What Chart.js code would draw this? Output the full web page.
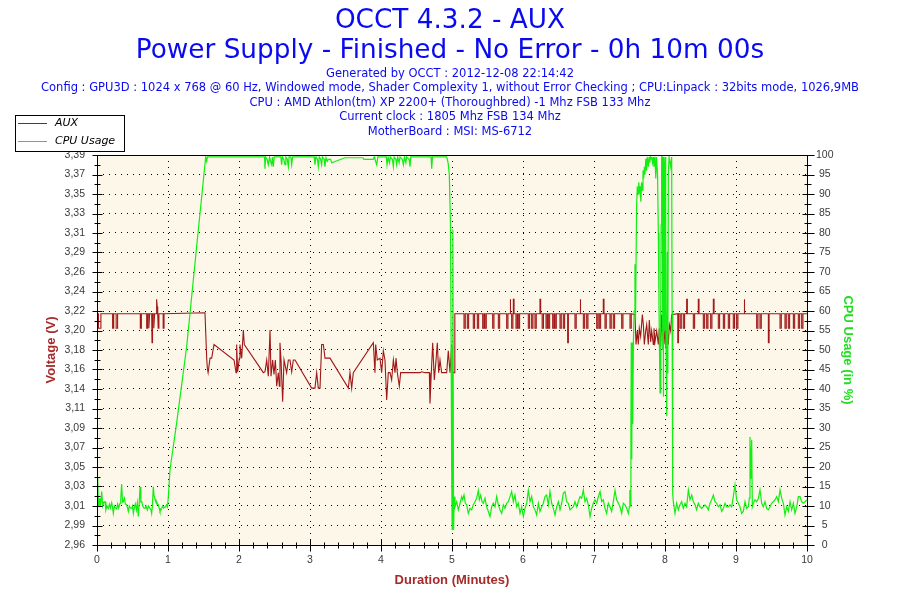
<!DOCTYPE html>
<html><head><meta charset="utf-8">
<script src="https://cdn.jsdelivr.net/npm/chart.js@4.4.1/dist/chart.umd.min.js"></script>
<style>html,body{margin:0;padding:0;background:#fff;overflow:hidden}#wrap{width:900px;height:600px}</style>
</head><body><div id="wrap"><canvas id="c" width="900" height="600"></canvas></div>
<script>
const titleLines = ['OCCT 4.3.2 - AUX', 'Power Supply - Finished - No Error - 0h 10m 00s'];
const infoLines = [
  'Generated by OCCT : 2012-12-08 22:14:42',
  'Config : GPU3D : 1024 x 768 @ 60 Hz, Windowed mode, Shader Complexity 1, without Error Checking ; CPU:Linpack : 32bits mode, 1026,9MB',
  'CPU : AMD Athlon(tm) XP 2200+ (Thoroughbred) -1 Mhz FSB 133 Mhz',
  'Current clock : 1805 Mhz FSB 134 Mhz',
  'MotherBoard : MSI: MS-6712'
];
const xAxisTitle = 'Duration (Minutes)';
const yAxisTitle = 'Voltage (V)';
const y1AxisTitle = 'CPU Usage (in %)';
const seriesNames = ['AUX', 'CPU Usage'];
const voltMin = 2.964, voltMax = 3.394;
const voltTickLabels = ['2,96','2,99','3,01','3,03','3,05','3,07','3,09','3,11','3,14','3,16','3,18','3,20','3,22','3,24','3,26','3,29','3,31','3,33','3,35','3,37','3,39'];

const auxTime = [
  0.000,0.010,0.010,0.020,0.020,0.055,0.055,0.220,0.220,0.235,0.235,0.270,0.270,0.290,0.290,
  0.610,0.610,0.625,0.625,0.700,0.700,0.712,0.712,0.730,0.730,0.742,0.770,0.775,0.782,0.800,
  0.800,0.812,0.835,0.840,0.848,0.855,0.862,0.872,0.932,0.932,0.944,0.944,1.521,
  1.545,1.554,1.565,1.577,1.592,1.615,1.648,1.930,1.958,1.967,1.981,2.005,2.014,2.038,2.061,2.075,
  2.343,2.366,2.390,2.413,2.437,2.451,2.474,2.493,2.512,2.531,2.554,2.568,2.577,2.592,2.615,2.634,
  2.671,2.695,2.718,2.742,2.765,2.789,3.023,3.070,3.094,3.117,3.141,3.164,3.188,3.211,3.282,
  3.540,3.563,3.587,3.610,3.892,3.915,3.925,3.948,3.986,4.009,4.033,4.056,4.080,4.103,4.127,
  4.150,4.174,4.197,4.211,4.230,4.258,4.277,4.549,4.573,4.620,4.681,4.690,4.704,4.728,4.751,
  4.775,4.793,4.812,4.831,4.854,4.925,4.948,4.972,4.995,5.010,5.035,5.040,
  5.169,5.169,5.187,5.187, 5.216,5.216,5.234,5.234, 5.300,5.300,5.318,5.318, 5.357,5.357,5.375,5.375,
  5.432,5.432,5.450,5.450, 5.465,5.465,5.483,5.483, 5.573,5.573,5.591,5.591, 5.653,5.653,5.671,5.671,
  5.770,5.770,5.788,5.788, 5.817,5.817,5.827,5.827, 5.840,5.840,5.858,5.858, 5.864,5.864,5.874,5.874,
  5.901,5.901,5.919,5.919, 5.934,5.934,5.952,5.952, 6.075,6.075,6.093,6.093, 6.122,6.122,6.140,6.140,
  6.169,6.169,6.187,6.187, 6.239,6.239,6.249,6.249, 6.270,6.270,6.288,6.288, 6.324,6.324,6.342,6.342,
  6.357,6.357,6.375,6.375, 6.418,6.418,6.436,6.436, 6.451,6.451,6.469,6.469, 6.521,6.521,6.539,6.539,
  6.568,6.568,6.586,6.586, 6.629,6.629,6.639,6.639, 6.732,6.732,6.750,6.750, 6.803,6.803,6.813,6.813,
  6.850,6.850,6.868,6.868, 6.897,6.897,6.915,6.915, 7.038,7.038,7.056,7.056, 7.075,7.075,7.093,7.093,
  7.131,7.131,7.141,7.141, 7.155,7.155,7.173,7.173, 7.225,7.225,7.243,7.243, 7.272,7.272,7.290,7.290,
  7.390,7.390,7.408,7.408, 7.507,7.507,7.525,7.525,
  7.577,7.592,7.610,7.624,7.638,7.657,7.681,7.695,7.709,7.728,7.742,7.765,7.779,7.798,7.812,7.836,
  7.845,7.859,7.883,7.906,7.920,7.939,7.953,7.967,7.986,8.000,8.014,8.033,8.047,8.061,8.080,8.094,
  8.180,8.180,8.190,8.190, 8.211,8.211,8.229,8.229, 8.258,8.258,8.276,8.276, 8.305,8.305,8.315,8.315,
  8.399,8.399,8.417,8.417, 8.469,8.469,8.479,8.479, 8.540,8.540,8.558,8.558, 8.587,8.587,8.605,8.605,
  8.643,8.643,8.661,8.661, 8.681,8.681,8.691,8.691, 8.751,8.751,8.769,8.769, 8.822,8.822,8.840,8.840,
  8.892,8.892,8.910,8.910, 8.962,8.962,8.980,8.980, 9.009,9.009,9.027,9.027, 9.113,9.113,9.123,9.123,
  9.291,9.291,9.309,9.309, 9.338,9.338,9.356,9.356, 9.456,9.456,9.466,9.466, 9.620,9.620,9.638,9.638,
  9.690,9.690,9.708,9.708, 9.737,9.737,9.755,9.755, 9.808,9.808,9.826,9.826, 9.878,9.878,9.896,9.896,
  9.925,9.925,9.943,9.943, 10.000
];
const auxVolt = [
  3.203,3.203,3.219,3.219,3.203,3.203,3.219,3.219,3.203,3.203,3.219,3.219,3.203,3.203,3.219,
  3.219,3.203,3.203,3.219,3.219,3.203,3.203,3.219,3.219,3.203,3.219,3.219,3.187,3.219,3.219,
  3.203,3.219,3.219,3.235,3.227,3.219,3.203,3.219,3.219,3.203,3.203,3.219,3.220,
  3.170,3.159,3.154,3.154,3.170,3.170,3.185,3.168,3.154,3.185,3.155,3.170,3.185,3.170,3.201,3.185,
  3.154,3.155,3.168,3.150,3.201,3.150,3.168,3.152,3.168,3.139,3.154,3.139,3.187,3.168,3.122,3.168,
  3.154,3.168,3.168,3.155,3.168,3.168,3.137,3.137,3.154,3.137,3.137,3.185,3.185,3.170,3.170,
  3.137,3.154,3.137,3.154,3.187,3.154,3.185,3.168,3.170,3.154,3.178,3.168,3.124,3.154,3.154,
  3.146,3.168,3.154,3.170,3.154,3.139,3.154,3.154,3.155,3.154,3.154,3.120,3.146,3.187,3.146,
  3.168,3.187,3.154,3.168,3.154,3.154,3.178,3.154,3.185,3.154,3.154,3.219,
  3.219,3.203,3.203,3.219, 3.219,3.203,3.203,3.219, 3.219,3.203,3.203,3.219, 3.219,3.203,3.203,3.219,
  3.219,3.203,3.203,3.219, 3.219,3.203,3.203,3.219, 3.219,3.203,3.203,3.219, 3.219,3.203,3.203,3.219,
  3.219,3.203,3.203,3.219, 3.219,3.235,3.235,3.219, 3.219,3.203,3.203,3.219, 3.219,3.235,3.235,3.219,
  3.219,3.203,3.203,3.219, 3.219,3.203,3.203,3.219, 3.219,3.203,3.203,3.219, 3.219,3.203,3.203,3.219,
  3.219,3.203,3.203,3.219, 3.219,3.235,3.235,3.219, 3.219,3.203,3.203,3.219, 3.219,3.203,3.203,3.219,
  3.219,3.203,3.203,3.219, 3.219,3.203,3.203,3.219, 3.219,3.203,3.203,3.219, 3.219,3.203,3.203,3.219,
  3.219,3.203,3.203,3.219, 3.219,3.187,3.187,3.219, 3.219,3.203,3.203,3.219, 3.219,3.235,3.235,3.219,
  3.219,3.203,3.203,3.219, 3.219,3.203,3.203,3.219, 3.219,3.203,3.203,3.219, 3.219,3.203,3.203,3.219,
  3.219,3.235,3.235,3.219, 3.219,3.203,3.203,3.219, 3.219,3.203,3.203,3.219, 3.219,3.203,3.203,3.219,
  3.219,3.203,3.203,3.219, 3.219,3.203,3.203,3.219,
  3.218,3.185,3.200,3.185,3.203,3.194,3.218,3.207,3.185,3.200,3.207,3.185,3.212,3.188,3.200,3.185,
  3.203,3.188,3.200,3.185,3.203,3.183,3.218,3.200,3.185,3.203,3.181,3.200,3.185,3.207,3.200,3.218,
  3.219,3.187,3.187,3.219, 3.219,3.203,3.203,3.219, 3.219,3.203,3.203,3.219, 3.219,3.235,3.235,3.219,
  3.219,3.203,3.203,3.219, 3.219,3.235,3.235,3.219, 3.219,3.203,3.203,3.219, 3.219,3.203,3.203,3.219,
  3.219,3.203,3.203,3.219, 3.219,3.235,3.235,3.219, 3.219,3.203,3.203,3.219, 3.219,3.203,3.203,3.219,
  3.219,3.203,3.203,3.219, 3.219,3.203,3.203,3.219, 3.219,3.203,3.203,3.219, 3.219,3.235,3.235,3.219,
  3.219,3.203,3.203,3.219, 3.219,3.203,3.203,3.219, 3.219,3.187,3.187,3.219, 3.219,3.203,3.203,3.219,
  3.219,3.203,3.203,3.219, 3.219,3.203,3.203,3.219, 3.219,3.203,3.203,3.219, 3.219,3.203,3.203,3.219,
  3.219,3.203,3.203,3.219, 3.219
];

const cpuTime = [
  0.000,0.009,0.020,0.030,0.042,0.055,0.066,0.080,0.095,0.113,0.125,0.140,0.160,0.175,0.190,0.207,
  0.220,0.230,0.245,0.260,0.277,0.290,0.305,0.324,0.335,0.347,0.360,0.371,0.385,0.400,0.418,0.430,
  0.441,0.455,0.470,0.488,0.500,0.512,0.525,0.540,0.555,0.568,0.582,0.595,0.606,0.618,0.629,0.645,
  0.660,0.676,0.690,0.709,0.725,0.746,0.760,0.770,0.780,0.793,0.805,0.817,0.830,0.840,0.852,0.864,
  0.875,0.887,0.900,0.911,0.925,0.940,0.958,0.970,0.981,0.993,1.005,
  1.028,1.122,1.263,1.404,1.531,
  1.545,1.556,2.360,2.366,2.375,2.395,2.413,2.430,2.450,2.460,2.470,2.484,2.495,2.590,2.600,2.612,
  2.630,2.648,2.660,2.680,2.695,2.705,2.730,2.742,2.755,2.789,3.060,3.070,3.085,3.105,3.117,3.130,
  3.150,3.164,3.175,3.200,3.211,3.225,3.245,3.258,3.290,3.305,3.493,3.745,3.760,3.890,3.905,3.915,
  3.940,3.955,4.075,4.085,4.100,4.120,4.130,4.160,4.174,4.185,4.210,4.221,4.235,4.255,4.268,4.300,
  4.315,4.330,4.350,4.361,4.395,4.408,4.420,4.705,4.714,4.725,4.925,4.945,4.962,
  4.978,4.988,4.995,5.002,5.012,5.022,5.032,
  5.042,5.066,5.089,5.113,5.136,5.150,5.169,5.188,5.207,5.230,5.254,5.277,5.300,5.324,5.347,5.371,
  5.385,5.404,5.423,5.441,5.465,5.488,5.512,5.535,5.559,5.582,5.606,5.629,5.653,5.676,5.700,5.723,
  5.746,5.770,5.793,5.817,5.840,5.864,5.887,5.911,5.934,5.958,5.981,6.005,6.028,6.052,6.075,6.099,
  6.122,6.146,6.169,6.192,6.216,6.239,6.263,6.286,6.310,6.333,6.357,6.380,6.404,6.427,6.451,6.474,
  6.498,6.521,6.545,6.568,6.592,6.615,6.638,6.662,6.685,6.709,6.732,6.756,6.779,6.803,6.826,6.850,
  6.873,6.897,6.920,6.944,6.967,6.991,7.014,7.038,7.061,7.085,7.108,7.131,7.155,7.178,7.202,7.225,
  7.249,7.272,7.296,7.319,7.343,7.366,7.390,7.413,7.437,7.460,7.484,7.498,
  7.505,7.512,7.520,7.525,7.532,7.538,7.545,7.555,7.565,7.577,7.585,7.600,7.610,7.620,7.630,7.640,
  7.648,7.660,7.670,7.680,7.690,7.700,7.710,7.718,7.730,7.740,7.750,7.765,7.775,7.785,7.795,7.805,
  7.812,7.825,7.835,7.845,7.859,7.870,7.880,7.895,7.906,7.915,7.925,7.930,7.940,7.945,7.953,7.962,
  7.968,7.972,7.976,7.982,7.990,7.995,8.000,8.010,8.018,8.024,8.032,8.040,8.047,8.058,8.070,8.080,
  8.094,8.100,8.108,
  8.117,8.141,8.164,8.188,8.211,8.235,8.258,8.282,8.305,8.329,8.352,8.376,8.399,8.423,8.446,8.469,
  8.493,8.516,8.540,8.563,8.587,8.610,8.634,8.657,8.681,8.704,8.728,8.751,8.775,8.798,8.822,8.845,
  8.869,8.892,8.916,8.939,8.962,8.986,9.009,9.033,9.056,9.080,9.103,9.127,9.150,9.174,9.188,9.197,
  9.210,9.221,9.230,9.244,9.268,9.291,9.315,9.338,9.362,9.385,9.408,9.432,9.455,9.479,9.502,9.526,
  9.549,9.573,9.596,9.620,9.643,9.667,9.690,9.714,9.737,9.761,9.784,9.808,9.831,9.855,9.878,9.902,
  9.925,9.948,9.972,10.000
];
const cpuUsage = [
  11,17.5,10,12,9.8,11,13.7,10,11,11.1,9,10,9.4,10.5,9.5,10.8,
  9.5,8.1,10,9.5,9.2,10.5,9.5,10.7,12,15.6,11,11.1,12,10.5,10.3,9.5,
  8.6,10,9.5,9.4,10,8.1,9.5,10.5,9,10.8,7.3,11,14.9,11,11.1,10,
  9.5,9.4,10,9,10,9.4,9,8.1,10,14.9,12.5,11.8,11,11.1,10.5,10.3,
  9.5,8.6,9,9.4,10,9.5,9.8,10,10.3,9.8,12.4,
  19.3,31.3,50.9,76.6,99.5,
  98.4,99.5,99.5,96.5,99.5,98.9,97.5,99.5,98,97.5,99.5,97,99.5,99.5,97.5,99.5,
  98.9,97.5,99.5,98.9,97,99.5,99.5,97.5,99.5,99.5,99.5,97.5,99.5,98.9,97,99.5,
  98.9,97.5,99.5,98.9,97,99.3,98.4,98.9,98.9,98,99.3,99.3,98.9,98.9,99.5,98.9,
  97.5,99.5,99.5,97.5,99.5,98,99.5,98.9,97,99.5,98.9,97.5,99.5,98,99.5,98.9,
  97.5,99.5,98,99.5,98.9,97,99.5,99.5,96.5,99.5,99.5,98,95,
  82.7,50.9,20,4,80.9,3.9,12.4,
  9.8,11.1,9.0,10.7,12.4,11.6,12.8,10.7,10.3,8.1,9.4,9.0,10.3,11.1,12.0,14.0,
  11.6,12.8,11.1,10.7,12.0,9.8,8.6,7.3,9.8,10.7,9.8,12.4,10.3,9.0,8.1,10.3,
  9.4,10.7,11.1,12.4,13.7,11.1,12.8,9.8,10.7,8.1,9.8,7.3,9.4,10.7,14.0,11.1,
  12.4,9.8,9.0,7.7,10.7,8.6,9.8,10.7,12.4,12.8,10.3,13.7,10.7,9.4,7.7,9.8,
  11.1,9.0,10.7,13.3,13.7,11.1,10.7,9.0,9.4,9.8,11.1,9.8,11.1,12.4,12.0,14.1,
  11.1,12.0,10.3,7.3,9.4,10.7,11.6,10.7,12.4,13.7,11.1,11.6,9.4,8.1,10.7,9.8,
  8.6,11.1,14.0,11.6,10.7,9.8,8.1,10.7,10.3,9.4,8.1,9.8,
  14.1,10,30.8,51.9,22,51.9,31,52,60,72,58,87,92,90,93,91,
  92,88,93,91,96,94,97,95,99,96,99.5,97,99.5,98,99.5,99,
  99.5,98,99.5,97,99.5,94,99.5,95,80,62,46,39,60,82,99.5,99.5,
  50,80,38,99.5,95,55,99.5,62,44,33,75,44,95,99.5,99.5,97,
  99.5,60,13.3,
  11.1,8.1,10.7,9.0,10.3,11.1,9.4,10.7,9.8,14.1,11.6,12.8,11.1,10.3,9.0,10.7,
  9.8,9.4,9.8,10.3,9.8,9.0,10.7,11.6,12.8,11.1,10.7,9.8,10.3,8.6,9.4,10.7,
  9.8,9.8,10.3,9.8,12.4,15.4,11.6,10.7,9.8,8.1,8.6,11.1,9.4,9.8,12.0,27.7,
  17,27,9.8,10.7,11.6,11.1,12.0,14.1,10.7,9.8,11.1,9.4,9.0,9.8,10.7,11.1,
  11.6,12.4,11.1,14.1,12.0,10.7,7.7,9.8,8.6,11.1,9.0,10.7,8.1,9.8,12.4,12.4,
  11.1,10.7,11.1,11.6
];

if (auxTime.length !== auxVolt.length) throw new Error('aux length ' + auxTime.length + ' vs ' + auxVolt.length);
if (cpuTime.length !== cpuUsage.length) throw new Error('cpu length ' + cpuTime.length + ' vs ' + cpuUsage.length);

const auxColor = '#A01818';
const cpuColor = '#11EE11';
const plotBg = '#FCF7E9';
const titleBlue = '#0A0AF0';
const tickColor = '#3a3a3a';
const FONT_V = '"DejaVu Sans", Verdana, sans-serif';
const FONT_A = '"Liberation Sans", Arial, sans-serif';

const decor = {
  id: 'decor',
  beforeDraw(chart) {
    const {ctx, chartArea: a} = chart;
    ctx.save();
    ctx.fillStyle = '#fff';
    ctx.fillRect(0, 0, chart.width, chart.height);
    ctx.fillStyle = plotBg;
    ctx.fillRect(a.left, a.top, a.right - a.left, a.bottom - a.top);
    ctx.restore();
  },
  afterDraw(chart) {
    const {ctx, chartArea: a, scales} = chart;
    const xs = scales.x, yl = scales.y, yr = scales.y1;
    ctx.save();
    ctx.strokeStyle = '#000';
    ctx.lineWidth = 1;
    const L = Math.round(a.left) + 0.5, T = Math.round(a.top) + 0.5;
    const R = Math.round(a.right) + 0.5, B = Math.round(a.bottom) + 0.5;
    ctx.strokeRect(L, T, R - L, B - T);
    ctx.beginPath();
    for (let i = 0; i <= 50; i++) {
      const px = Math.round(xs.getPixelForValue(i / 5)) + 0.5;
      const major = i % 5 === 0;
      ctx.moveTo(px, B - (major ? 6 : 3));
      ctx.lineTo(px, B + (major ? 6 : 3));
    }
    for (let i = 0; i <= 40; i++) {
      const py = Math.round(yl.getPixelForValue(voltMin + i * (voltMax - voltMin) / 40)) + 0.5;
      const major = i % 2 === 0;
      ctx.moveTo(L - (major ? 5 : 3), py);
      ctx.lineTo(L + (major ? 5 : 3), py);
    }
    for (let i = 0; i <= 40; i++) {
      const py = Math.round(yr.getPixelForValue(i * 2.5)) + 0.5;
      const major = i % 2 === 0;
      ctx.moveTo(R - (major ? 5 : 3), py);
      ctx.lineTo(R + (major ? 7 : 4), py);
    }
    ctx.stroke();

    ctx.fillStyle = titleBlue;
    ctx.textAlign = 'center';
    ctx.textBaseline = 'middle';
    ctx.font = '26.3px ' + FONT_V;
    ctx.fillText(titleLines[0], 450, 21);
    ctx.fillText(titleLines[1], 450, 51);
    ctx.font = '11.5px ' + FONT_V;
    infoLines.forEach((t, i) => ctx.fillText(t, 450, 74 + i * 14.4));

    ctx.font = 'bold 13px ' + FONT_A;
    ctx.fillStyle = '#A52A2A';
    ctx.fillText(xAxisTitle, (a.left + a.right) / 2, 580);
    ctx.save();
    ctx.translate(51, (a.top + a.bottom) / 2);
    ctx.rotate(-Math.PI / 2);
    ctx.fillText(yAxisTitle, 0, 0);
    ctx.restore();
    ctx.save();
    ctx.fillStyle = '#22DD22';
    ctx.translate(848, (a.top + a.bottom) / 2);
    ctx.rotate(Math.PI / 2);
    ctx.fillText(y1AxisTitle, 0, 0);
    ctx.restore();

    ctx.fillStyle = '#fff';
    ctx.fillRect(15, 115, 109, 36);
    ctx.strokeStyle = '#000';
    ctx.strokeRect(15.5, 115.5, 109, 36);
    const legendColors = [auxColor, cpuColor];
    ctx.textAlign = 'left';
    ctx.font = 'italic 11px ' + FONT_V;
    seriesNames.forEach((n, i) => {
      const y = 123.5 + i * 18;
      ctx.strokeStyle = legendColors[i];
      ctx.beginPath();
      ctx.moveTo(18, y); ctx.lineTo(47, y);
      ctx.stroke();
      ctx.fillStyle = '#000';
      ctx.fillText(n, 55, y);
    });
    ctx.restore();
  }
};

new Chart(document.getElementById('c'), {
  type: 'line',
  data: {
    datasets: [
      {
        label: seriesNames[1],
        data: cpuTime.map((t, i) => ({x: t, y: cpuUsage[i]})),
        yAxisID: 'y1', borderColor: cpuColor, borderWidth: 1.2,
        pointRadius: 0, tension: 0, fill: false, order: 0
      },
      {
        label: seriesNames[0],
        data: auxTime.map((t, i) => ({x: t, y: auxVolt[i]})),
        yAxisID: 'y', borderColor: auxColor, borderWidth: 1.1,
        pointRadius: 0, tension: 0, fill: false, order: 1
      }
    ]
  },
  options: {
    responsive: false,
    animation: false,
    devicePixelRatio: 1,
    layout: {padding: {top: 155, left: 0, right: 0, bottom: 0}},
    plugins: {legend: {display: false}, tooltip: {enabled: false}, title: {display: false}},
    scales: {
      x: {
        type: 'linear', min: 0, max: 10,
        ticks: {stepSize: 1, color: tickColor, font: {family: FONT_A, size: 10.5}, padding: 9, maxRotation: 0, autoSkip: false},
        grid: {color: '#000', lineWidth: 1, drawTicks: false},
        border: {display: false, dash: [1, 5]},
        afterFit(s) { s.height = 55; }
      },
      y: {
        type: 'linear', position: 'left', min: voltMin, max: voltMax,
        afterBuildTicks(s) {
          s.ticks = voltTickLabels.map((l, i) => ({value: voltMin + i * (voltMax - voltMin) / (voltTickLabels.length - 1)}));
        },
        ticks: {callback: (v, i) => voltTickLabels[i], color: tickColor, font: {family: FONT_A, size: 10.5}, padding: 12, autoSkip: false},
        grid: {color: '#000', lineWidth: 1, drawTicks: false},
        border: {display: false, dash: [1, 5]},
        afterFit(s) { s.width = 97; }
      },
      y1: {
        type: 'linear', position: 'right', min: 0, max: 100,
        ticks: {stepSize: 5, color: tickColor, font: {family: FONT_A, size: 10.5}, padding: 9, crossAlign: 'center', autoSkip: false},
        grid: {drawOnChartArea: false, drawTicks: false},
        border: {display: false},
        afterFit(s) { s.width = 93; }
      }
    }
  },
  plugins: [decor]
});
</script>
</body></html>
